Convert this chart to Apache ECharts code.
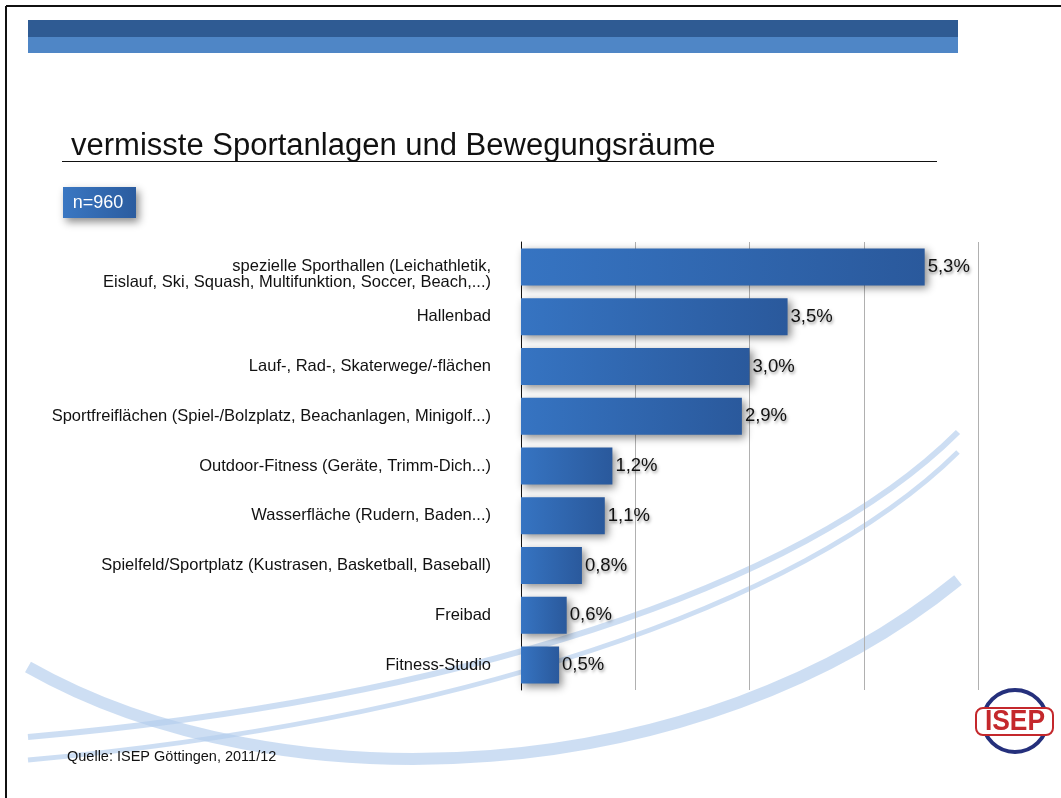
<!DOCTYPE html>
<html>
<head>
<meta charset="utf-8">
<script src="https://cdn.jsdelivr.net/npm/echarts@6/dist/echarts.min.js"></script>
<style>
html,body{margin:0;padding:0;background:#fff;}
#chart{width:1061px;height:798px;}
</style>
</head>
<body>
<div id="chart"></div>
<script>
const categories = [
  "spezielle Sporthallen (Leichathletik,\nEislauf, Ski, Squash, Multifunktion, Soccer, Beach,...)",
  "Hallenbad",
  "Lauf-, Rad-, Skaterwege/-flächen",
  "Sportfreiflächen (Spiel-/Bolzplatz, Beachanlagen, Minigolf...)",
  "Outdoor-Fitness (Geräte, Trimm-Dich...)",
  "Wasserfläche (Rudern, Baden...)",
  "Spielfeld/Sportplatz (Kustrasen, Basketball, Baseball)",
  "Freibad",
  "Fitness-Studio"
];
const values = [5.3, 3.5, 3.0, 2.9, 1.2, 1.1, 0.8, 0.6, 0.5];
const titleText = "vermisste Sportanlagen und Bewegungsräume";
const sampleText = "n=960";
const sourceText = "Quelle: ISEP Göttingen, 2011/12";

const FONT = "'Liberation Sans', Arial, Helvetica, sans-serif";
const chart = echarts.init(document.getElementById('chart'), null, {renderer: 'canvas'});

const swoosh = 'rgba(178,205,236,0.65)';

chart.setOption({
  backgroundColor: '#fff',
  animation: false,
  textStyle: {fontFamily: FONT},
  title: [
    {text: titleText, left: 66, top: 126,
     textStyle: {fontSize: 31, fontWeight: 'normal', color: '#111', fontFamily: FONT}},
    {text: sourceText, left: 62, top: 744,
     textStyle: {fontSize: 14.5, fontWeight: 'normal', color: '#111', fontFamily: FONT}}
  ],
  grid: {left: 521, right: 83, top: 242, bottom: 108, containLabel: false},
  xAxis: {
    type: 'value', min: 0, max: 6, interval: 1.5,
    axisLine: {show: false}, axisTick: {show: false}, axisLabel: {show: false},
    splitLine: {show: true, lineStyle: {color: '#b0b0b0', width: 1}}
  },
  yAxis: {
    type: 'category', data: categories, inverse: true,
    axisLine: {show: true, lineStyle: {color: '#111', width: 1}},
    axisTick: {show: false},
    axisLabel: {margin: 30, fontSize: 16.5, color: '#111', fontFamily: FONT, lineHeight: 16, align: 'right',
      formatter: v => v.indexOf('\n') >= 0 ? '\n' + v : v}
  },
  graphic: [
    // outer border
    {type: 'line', z: 0, shape: {x1: 6, y1: 6, x2: 1061, y2: 6}, style: {stroke: '#111', lineWidth: 2}},
    {type: 'line', z: 0, shape: {x1: 6, y1: 6, x2: 6, y2: 798}, style: {stroke: '#111', lineWidth: 2}},
    // top banner
    {type: 'rect', z: 0, shape: {x: 28, y: 20, width: 930, height: 17}, style: {fill: '#2f5b93'}},
    {type: 'rect', z: 0, shape: {x: 28, y: 37, width: 930, height: 16}, style: {fill: '#4f86c6'}},
    // title underline
    {type: 'line', z: 0, shape: {x1: 62, y1: 161.5, x2: 937, y2: 161.5}, style: {stroke: '#111', lineWidth: 1.2}},
    // decorative swooshes
    {type: 'bezierCurve', z: 0, silent: true,
     shape: {x1: 28, y1: 667, x2: 958, y2: 580, cpx1: 280, cpy1: 810, cpx2: 700, cpy2: 790},
     style: {stroke: swoosh, lineWidth: 12, fill: null}},
    {type: 'bezierCurve', z: 0, silent: true,
     shape: {x1: 28, y1: 737, x2: 958, y2: 432, cpx1: 450, cpy1: 700, cpx2: 800, cpy2: 590},
     style: {stroke: swoosh, lineWidth: 6, fill: null}},
    {type: 'bezierCurve', z: 0, silent: true,
     shape: {x1: 28, y1: 760, x2: 958, y2: 452, cpx1: 450, cpy1: 722, cpx2: 800, cpy2: 608},
     style: {stroke: swoosh, lineWidth: 5, fill: null}},
    // n=960 box
    {type: 'rect', z: 5, shape: {x: 63, y: 187, width: 73, height: 31},
     style: {fill: new echarts.graphic.LinearGradient(0, 0, 1, 0, [{offset: 0, color: '#3a77c2'}, {offset: 1, color: '#2b5c9f'}]),
             shadowBlur: 8, shadowColor: 'rgba(0,0,0,0.45)', shadowOffsetX: 3, shadowOffsetY: 4}},
    {type: 'text', z: 6, style: {text: sampleText, x: 98, y: 203, textAlign: 'center', textVerticalAlign: 'middle',
             fill: '#fff', font: '18px ' + FONT}},
    // ISEP logo
    {type: 'ellipse', z: 5, shape: {cx: 1015, cy: 721, rx: 32, ry: 31},
     style: {fill: '#fff', stroke: '#25307c', lineWidth: 4}},
    {type: 'rect', z: 6, shape: {x: 976, y: 708, width: 77, height: 27, r: 7},
     style: {fill: '#fff', stroke: '#c4282c', lineWidth: 2}},
    {type: 'text', z: 7, x: 1015, y: 722, scaleX: 0.88,
     style: {text: 'ISEP', x: 0, y: 0, textAlign: 'center', textVerticalAlign: 'middle',
             fill: '#c4282c', font: 'bold 30px ' + FONT}}
  ],
  series: [{
    type: 'bar', data: values, barWidth: 37, z: 3,
    itemStyle: {
      color: new echarts.graphic.LinearGradient(0, 0, 1, 0, [
        {offset: 0, color: '#3674c2'}, {offset: 1, color: '#2a599c'}
      ]),
      shadowBlur: 8, shadowColor: 'rgba(0,0,0,0.45)', shadowOffsetX: 3, shadowOffsetY: 3
    },
    label: {
      show: true, position: 'right', distance: 3, fontSize: 18.5, color: '#111', fontFamily: FONT,
      textShadowColor: 'rgba(0,0,0,0.4)', textShadowBlur: 3, textShadowOffsetX: 1, textShadowOffsetY: 2,
      formatter: p => p.value.toFixed(1).replace('.', ',') + '%'
    }
  }]
});
</script>
</body>
</html>
